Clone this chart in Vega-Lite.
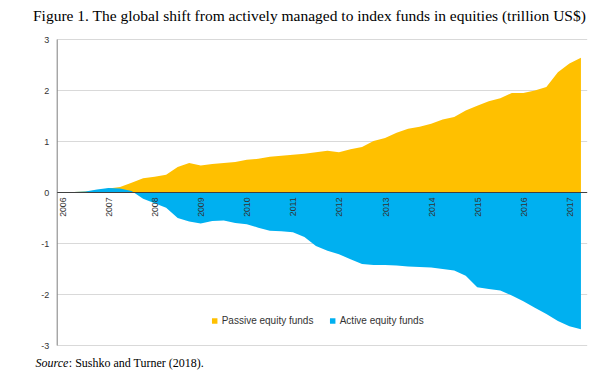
{
  "$schema": "https://vega.github.io/schema/vega-lite/v6.json",
  "autosize": "none",
  "width": 530,
  "height": 306,
  "padding": {"left": 56.7, "top": 39, "right": 23.3, "bottom": 35},
  "background": "white",
  "config": {"view": {"stroke": null}},
  "title": {
    "text": "Figure 1. The global shift from actively managed to index funds in equities (trillion US$)",
    "anchor": "start",
    "frame": "group",
    "font": "Liberation Serif",
    "fontSize": 15.5,
    "fontWeight": "normal",
    "color": "black",
    "dx": -23.7,
    "dy": 18.5,
    "offset": 17.5,
    "baseline": "alphabetic"
  },
  "data": {
    "values": [
      {"t": 2006.00, "passive": 0, "active": 0},
      {"t": 2006.25, "passive": 0, "active": 0},
      {"t": 2006.50, "passive": 0.01, "active": 0.01},
      {"t": 2006.75, "passive": 0.03, "active": 0.05},
      {"t": 2007.00, "passive": 0.07, "active": 0.08},
      {"t": 2007.25, "passive": 0.10, "active": 0.07},
      {"t": 2007.50, "passive": 0.18, "active": 0.02},
      {"t": 2007.75, "passive": 0.27, "active": -0.13},
      {"t": 2008.00, "passive": 0.30, "active": -0.22},
      {"t": 2008.25, "passive": 0.34, "active": -0.31},
      {"t": 2008.50, "passive": 0.49, "active": -0.51},
      {"t": 2008.75, "passive": 0.57, "active": -0.58},
      {"t": 2009.00, "passive": 0.52, "active": -0.62},
      {"t": 2009.25, "passive": 0.55, "active": -0.57},
      {"t": 2009.50, "passive": 0.57, "active": -0.56},
      {"t": 2009.75, "passive": 0.59, "active": -0.61},
      {"t": 2010.00, "passive": 0.63, "active": -0.63},
      {"t": 2010.25, "passive": 0.65, "active": -0.70},
      {"t": 2010.50, "passive": 0.69, "active": -0.76},
      {"t": 2010.75, "passive": 0.71, "active": -0.77},
      {"t": 2011.00, "passive": 0.73, "active": -0.79},
      {"t": 2011.25, "passive": 0.75, "active": -0.88},
      {"t": 2011.50, "passive": 0.78, "active": -1.06},
      {"t": 2011.75, "passive": 0.81, "active": -1.15},
      {"t": 2012.00, "passive": 0.78, "active": -1.22},
      {"t": 2012.25, "passive": 0.84, "active": -1.32},
      {"t": 2012.50, "passive": 0.88, "active": -1.41},
      {"t": 2012.75, "passive": 1.00, "active": -1.43},
      {"t": 2013.00, "passive": 1.06, "active": -1.43},
      {"t": 2013.25, "passive": 1.16, "active": -1.44},
      {"t": 2013.50, "passive": 1.24, "active": -1.46},
      {"t": 2013.75, "passive": 1.28, "active": -1.47},
      {"t": 2014.00, "passive": 1.34, "active": -1.48},
      {"t": 2014.25, "passive": 1.42, "active": -1.51},
      {"t": 2014.50, "passive": 1.47, "active": -1.54},
      {"t": 2014.75, "passive": 1.60, "active": -1.64},
      {"t": 2015.00, "passive": 1.69, "active": -1.87},
      {"t": 2015.25, "passive": 1.78, "active": -1.90},
      {"t": 2015.50, "passive": 1.84, "active": -1.93},
      {"t": 2015.75, "passive": 1.94, "active": -2.03},
      {"t": 2016.00, "passive": 1.94, "active": -2.14},
      {"t": 2016.25, "passive": 1.99, "active": -2.27},
      {"t": 2016.50, "passive": 2.06, "active": -2.39},
      {"t": 2016.75, "passive": 2.35, "active": -2.53},
      {"t": 2017.00, "passive": 2.52, "active": -2.63},
      {"t": 2017.25, "passive": 2.63, "active": -2.69}
    ]
  },
  "transform": [{"fold": ["passive", "active"], "as": ["s", "v"]}],
  "encoding": {
    "x": {
      "field": "t",
      "type": "quantitative",
      "scale": {"domain": [2005.875, 2017.375], "nice": false, "zero": false},
      "axis": {
        "values": [2006, 2007, 2008, 2009, 2010, 2011, 2012, 2013, 2014, 2015, 2016, 2017],
        "labelExpr": "'' + datum.value",
        "labelAngle": 270,
        "labelFont": "Liberation Sans",
        "labelFontSize": 8.7,
        "labelColor": "#333333",
        "labelPadding": 5,
        "offset": -153,
        "zindex": 1,
        "domainColor": "#404040",
        "domainWidth": 1,
        "ticks": false,
        "grid": false,
        "title": ": Sushko and Turner (2018).",
        "titleFont": "Liberation Serif",
        "titleFontSize": 12,
        "titleFontWeight": "normal",
        "titleColor": "black",
        "titleAlign": "left",
        "titleBaseline": "alphabetic",
        "titleAngle": 0,
        "titleX": 11.6,
        "titleY": 174.5
      }
    },
    "y": {
      "field": "v",
      "type": "quantitative",
      "stack": null,
      "scale": {"domain": [-3, 3], "nice": false},
      "axis": {
        "values": [-3, -2, -1, 0, 1, 2, 3],
        "labelExpr": "'' + datum.value",
        "labelFont": "Liberation Sans",
        "labelFontSize": 9,
        "labelColor": "#333333",
        "labelPadding": 8,
        "ticks": false,
        "grid": true,
        "gridColor": "#d9d9d9",
        "gridWidth": 1,
        "domainColor": "#7f7f7f",
        "title": "Source",
        "titleFont": "Liberation Serif",
        "titleFontStyle": "italic",
        "titleFontSize": 12,
        "titleFontWeight": "normal",
        "titleColor": "black",
        "titleAngle": 0,
        "titleAlign": "left",
        "titleBaseline": "alphabetic",
        "titleX": -21.7,
        "titleY": 327.5
      }
    },
    "color": {
      "field": "s",
      "type": "nominal",
      "scale": {"domain": ["passive", "active"], "range": ["#FFC000", "#00B0F0"]},
      "legend": {
        "orient": "none",
        "direction": "horizontal",
        "legendX": 153,
        "legendY": 277,
        "title": null,
        "labelExpr": "datum.label == 'passive' ? 'Passive equity funds' : 'Active equity funds'",
        "labelFont": "Liberation Sans",
        "labelFontSize": 10,
        "labelColor": "#333333",
        "labelOffset": 2,
        "columnPadding": 14,
        "symbolType": "square",
        "symbolSize": 30,
        "symbolStrokeWidth": 0,
        "symbolOpacity": 1
      }
    }
  },
  "layer": [
    {
      "transform": [{"filter": "datum.s == 'passive'"}],
      "mark": {"type": "area", "interpolate": "linear", "opacity": 1}
    },
    {
      "transform": [{"filter": "datum.s == 'active'"}],
      "mark": {"type": "area", "interpolate": "linear", "opacity": 1}
    }
  ]
}
